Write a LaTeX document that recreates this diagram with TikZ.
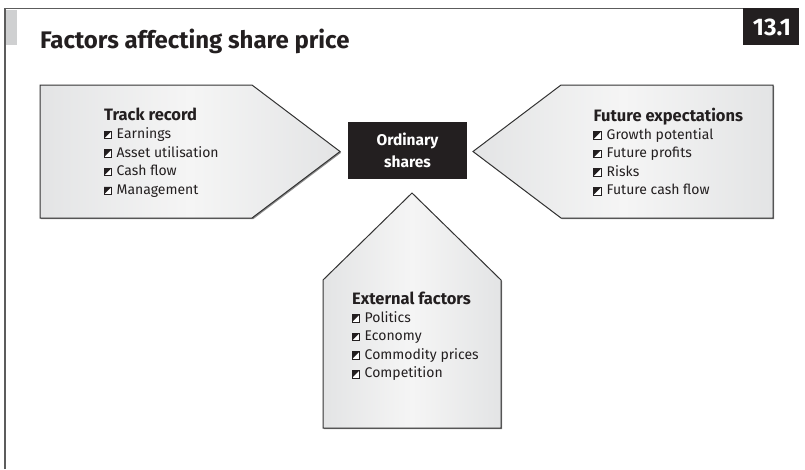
\documentclass[tikz,border=0pt]{standalone}
\usepackage{fontspec}
\setmainfont{Fira Sans}
\usetikzlibrary{calc}
\definecolor{ink}{HTML}{231F20}
\definecolor{edge}{HTML}{333333}
\definecolor{boxgray}{HTML}{E3E4E5}
\definecolor{boxlight}{HTML}{F5F5F5}
\definecolor{bargray}{HTML}{CFD0D1}
\tikzset{
  panel/.style={draw=edge, line width=1pt, left color=boxgray, right color=boxgray, middle color=boxlight},
  panelshadow/.style={fill=black!45, draw=none},
  head/.style={anchor=base west, inner sep=0pt, font=\fontsize{16.5}{18}\selectfont\bfseries, text=ink},
  item/.style={anchor=base west, inner sep=0pt, font=\fontsize{14}{16}\selectfont, text=ink},
  sqbullet/.pic={
    \fill[white] (0,0) rectangle (7.5,7.5);
    \fill[ink] (0,0) -- (7.5,0) -- (0,7.5) -- cycle;
    \draw[ink, line width=0.6pt] (0,0) rectangle (7.5,7.5);
  }
}
\begin{document}
\begin{tikzpicture}[x=1pt,y=-1pt]
\useasboundingbox (0,0) rectangle (805,469);
% frame
\draw[edge!80, line width=1.5pt] (5,469) -- (5,8.5) -- (743,8.5);
\fill[bargray] (6,10) rectangle (17,45);
\node[anchor=base west, inner sep=0pt, font=\fontsize{24}{30}\selectfont\bfseries, text=ink] (title) at (40,48) {Factors affecting share price};
\fill[ink] (743,8) rectangle (799,45);
\node[font=\fontsize{24}{26}\selectfont\bfseries, text=white, inner sep=0pt] (num) at (772,27) {13.1};

% left pentagon
\fill[panelshadow] ($(40,85)+(1.2,1.2)$) -- ++(212,0) -- ++(88,66.5) -- ++(-88,66.5) -- ++(-212,0) -- cycle;
\path[panel] (40,85) -- (252,85) -- (340,151.5) -- (252,218) -- (40,218) -- cycle;
% right pentagon
\fill[panelshadow] ($(773,85)+(1.2,1.2)$) -- ++(0,133) -- ++(-212,0) -- ++(-88,-66.5) -- ++(88,-66.5) -- cycle;
\path[panel] (773,85) -- (773,218) -- (561,218) -- (473,151.5) -- (561,85) -- cycle;
% bottom pentagon
\fill[panelshadow] ($(323,428)+(1.2,1.2)$) -- ++(178,0) -- ++(0,-148) -- ++(-89,-87) -- ++(-89,87) -- cycle;
\path[panel] (323,428) -- (501,428) -- (501,280) -- (412,193) -- (323,280) -- cycle;

% center box
\fill[ink] (348,122) rectangle (467,179);
\node[font=\fontsize{15.5}{22}\selectfont\bfseries, text=white, align=center, inner sep=0pt] (ord) at (407.5,150.5) {Ordinary\\shares};

% left text
\node[head] (tr) at (104,120) {Track record};
\foreach \t [count=\i from 0] in {Earnings, Asset utilisation, Cash flow, Management}{
  \pic at (104,{138.5+18.6*\i-7.5}) {sqbullet};
  \node[item] (tr\i) at (116.5,{138.5+18.6*\i}) {\t};
}
% right text
\node[head] (fe) at (593.5,121.5) {Future expectations};
\foreach \t [count=\i from 0] in {Growth potential, Future profits, Risks, Future cash flow}{
  \pic at (593.5,{139+18.6*\i-7.5}) {sqbullet};
  \node[item] (fe\i) at (606.5,{139+18.6*\i}) {\t};
}
% bottom text
\node[head] (ef) at (352,304) {External factors};
\foreach \t [count=\i from 0] in {Politics, Economy, Commodity prices, Competition}{
  \pic at (352,{322+18.6*\i-7.5}) {sqbullet};
  \node[item] (ef\i) at (364.5,{322+18.6*\i}) {\t};
}
\end{tikzpicture}
\end{document}
